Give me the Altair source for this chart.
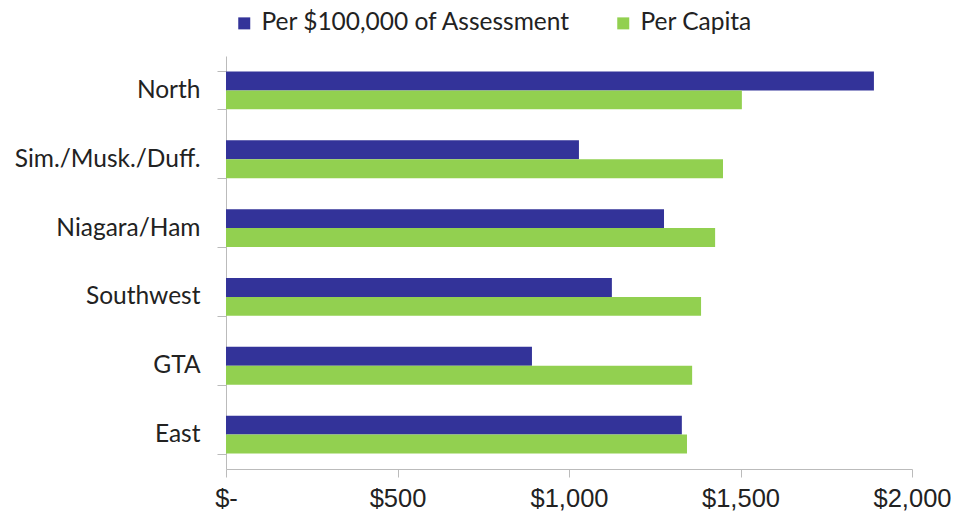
import altair as alt
import pandas as pd

regions = ["North", "Sim./Musk./Duff.", "Niagara/Ham", "Southwest", "GTA", "East"]
per_assessment = [1889, 1029, 1277, 1125, 892, 1329]
per_capita = [1504, 1449, 1426, 1385, 1359, 1344]
series = ["Per $100,000 of Assessment", "Per Capita"]
colors = ["#333399", "#92D050"]
x_ticks = [0, 500, 1000, 1500, 2000]

rows = []
for r, a, c in zip(regions, per_assessment, per_capita):
    rows.append({"region": r, "series": series[0], "value": a})
    rows.append({"region": r, "series": series[1], "value": c})
df = pd.DataFrame(rows)

chart = alt.Chart(df).mark_bar().encode(
    x=alt.X(
        "value:Q",
        scale=alt.Scale(domain=[0, 2000], nice=False),
        axis=alt.Axis(
            values=x_ticks,
            labelExpr="datum.value == 0 ? '$-' : '$' + format(datum.value, ',')",
            grid=False,
            title=None,
            domainColor="#bbbbbb",
            tickColor="#bbbbbb",
            tickSize=8,
            labelFont="Liberation Sans",
            labelFontSize=25.5,
            labelColor="#222222",
            labelPadding=9,
            labelFlush=False,
        ),
    ),
    y=alt.Y(
        "region:N",
        sort=regions,
        scale=alt.Scale(paddingInner=0.45, paddingOuter=0.225),
        axis=alt.Axis(
            title=None,
            tickBand="extent",
            tickSize=9,
            tickColor="#bbbbbb",
            domainColor="#bbbbbb",
            labelFont="Lato",
            labelFontSize=24.5,
            labelColor="#222222",
            labelPadding=17,
            labelLimit=0,
        ),
    ),
    yOffset=alt.YOffset("series:N", sort=series),
    color=alt.Color(
        "series:N",
        sort=series,
        scale=alt.Scale(domain=series, range=colors),
        legend=alt.Legend(
            title=None,
            orient="none",
            legendX=6,
            legendY=-45,
            direction="horizontal",
            symbolType="square",
            symbolSize=144,
            symbolStrokeWidth=0,
            symbolOpacity=1,
            labelFont="Lato",
            labelFontSize=24.5,
            labelColor="#222222",
            labelOffset=5,
            labelLimit=0,
            columnPadding=40,
            padding=0,
        ),
    ),
).properties(
    width=686,
    height=413,
    padding={"left": 218, "top": 48, "right": 39, "bottom": 47},
    autosize="none",
    background="white",
).configure_view(stroke=None)

chart.save("out.html", embed_options={"renderer": "svg", "actions": False})
